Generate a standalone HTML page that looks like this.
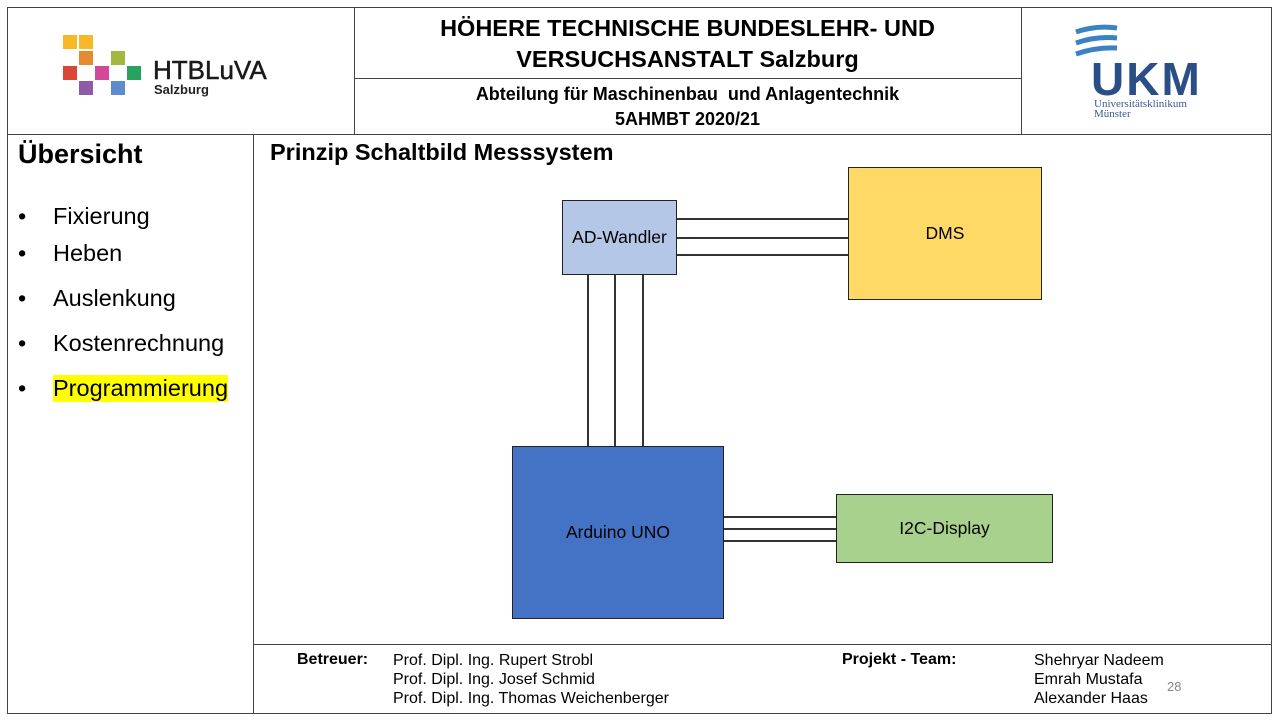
<!DOCTYPE html>
<html><head><meta charset="utf-8"><style>
*{margin:0;padding:0;box-sizing:border-box}
body{width:1280px;height:720px;background:#fff;position:relative;overflow:hidden;font-family:"Liberation Sans",Arial,sans-serif;color:#000}
.a{position:absolute}
.h{position:absolute;height:0;border-top:1.5px solid #444}
.v{position:absolute;width:0;border-left:1.5px solid #444}
.t{position:absolute;white-space:nowrap}
.box{position:absolute;border:1.5px solid #222;display:flex;align-items:center;justify-content:center;font-size:17.5px}
.ln{position:absolute;background:#333}
.li{font-size:23.5px}
</style></head><body>
<!-- frame -->
<div class="h" style="left:7px;top:7px;width:1265px"></div>
<div class="h" style="left:7px;top:134px;width:1265px"></div>
<div class="h" style="left:354px;top:78px;width:667px"></div>
<div class="h" style="left:253px;top:644px;width:1019px"></div>
<div class="h" style="left:7px;top:713px;width:1265px"></div>
<div class="v" style="left:7px;top:7px;height:706px"></div>
<div class="v" style="left:1271px;top:7px;height:706px"></div>
<div class="v" style="left:354px;top:7px;height:127px"></div>
<div class="v" style="left:1021px;top:7px;height:127px"></div>
<div class="v" style="left:253px;top:134px;height:579px"></div>

<!-- HTBLuVA logo -->
<div class="a" style="left:63px;top:35px;width:14px;height:14px;background:#f7b82a"></div>
<div class="a" style="left:79px;top:35px;width:14px;height:14px;background:#f7b82a"></div>
<div class="a" style="left:79px;top:51px;width:14px;height:14px;background:#e58a2f"></div>
<div class="a" style="left:111px;top:51px;width:14px;height:14px;background:#a4b840"></div>
<div class="a" style="left:63px;top:66px;width:14px;height:14px;background:#d94836"></div>
<div class="a" style="left:95px;top:66px;width:14px;height:14px;background:#d24a97"></div>
<div class="a" style="left:127px;top:66px;width:14px;height:14px;background:#27a35e"></div>
<div class="a" style="left:79px;top:81px;width:14px;height:14px;background:#8f5aa6"></div>
<div class="a" style="left:111px;top:81px;width:14px;height:14px;background:#5b8ccc"></div>
<div class="t" style="left:153px;top:55px;font-size:26px;color:#1a1a1a;-webkit-text-stroke:0.5px #1a1a1a">HTBLuVA</div>
<div class="t" style="left:154px;top:82px;font-size:13px;color:#222;font-weight:bold">Salzburg</div>

<!-- header text -->
<div class="t" style="left:354px;width:667px;top:13px;text-align:center;font-size:23.5px;font-weight:bold;line-height:31px">HÖHERE TECHNISCHE BUNDESLEHR- UND<br>VERSUCHSANSTALT Salzburg</div>
<div class="t" style="left:354px;width:667px;top:82px;text-align:center;font-size:18px;font-weight:bold;line-height:25px">Abteilung für Maschinenbau&nbsp; und Anlagentechnik<br>5AHMBT 2020/21</div>

<!-- UKM logo -->
<svg class="a" style="left:1073px;top:24px" width="48" height="40" viewBox="0 0 48 40">
<path d="M3 8 Q23 1 44 4" stroke="#3b82c4" stroke-width="5" fill="none"/>
<path d="M3 19 Q23 12 44 14" stroke="#3b82c4" stroke-width="5" fill="none"/>
<path d="M3 30 Q23 23 44 24" stroke="#3b82c4" stroke-width="5" fill="none"/>
</svg>
<div class="t" style="left:1091px;top:52px;font-size:46px;font-weight:bold;color:#2a4e86;letter-spacing:2px">UKM</div>
<div class="t" style="left:1094px;top:99px;font-size:11px;color:#3a5c8e;font-family:'Liberation Serif',serif;line-height:10px">Universitätsklinikum<br>Münster</div>

<!-- left panel -->
<div class="t" style="left:18px;top:139px;font-size:27px;font-weight:bold">Übersicht</div>
<div class="t li" style="left:18px;top:203px">•</div><div class="t li" style="left:53px;top:203px">Fixierung</div>
<div class="t li" style="left:18px;top:240px">•</div><div class="t li" style="left:53px;top:240px">Heben</div>
<div class="t li" style="left:18px;top:285px">•</div><div class="t li" style="left:53px;top:285px">Auslenkung</div>
<div class="t li" style="left:18px;top:330px">•</div><div class="t li" style="left:53px;top:330px">Kostenrechnung</div>
<div class="t li" style="left:18px;top:375px">•</div><div class="t li" style="left:53px;top:375px;background:#ffff00">Programmierung</div>

<!-- diagram -->
<div class="t" style="left:270px;top:139px;font-size:23.5px;font-weight:bold">Prinzip Schaltbild Messsystem</div>
<div class="ln" style="left:676px;top:218px;width:172px;height:2px"></div>
<div class="ln" style="left:676px;top:237px;width:172px;height:2px"></div>
<div class="ln" style="left:676px;top:254px;width:172px;height:2px"></div>
<div class="ln" style="left:587px;top:274px;width:2px;height:172px"></div>
<div class="ln" style="left:614px;top:274px;width:2px;height:172px"></div>
<div class="ln" style="left:642px;top:274px;width:2px;height:172px"></div>
<div class="ln" style="left:723px;top:516px;width:113px;height:2px"></div>
<div class="ln" style="left:723px;top:528px;width:113px;height:2px"></div>
<div class="ln" style="left:723px;top:540px;width:113px;height:2px"></div>
<div class="box" style="left:562px;top:200px;width:115px;height:75px;background:#b4c7e7">AD-Wandler</div>
<div class="box" style="left:848px;top:167px;width:194px;height:133px;background:#ffd966">DMS</div>
<div class="box" style="left:512px;top:446px;width:212px;height:173px;background:#4472c4">Arduino UNO</div>
<div class="box" style="left:836px;top:494px;width:217px;height:69px;background:#a9d18e">I2C-Display</div>

<!-- footer -->
<div class="t" style="left:297px;top:651px;font-size:16px;font-weight:bold">Betreuer:</div>
<div class="t" style="left:393px;top:651px;font-size:16px;line-height:19px">Prof. Dipl. Ing. Rupert Strobl<br>Prof. Dipl. Ing. Josef Schmid<br>Prof. Dipl. Ing. Thomas Weichenberger</div>
<div class="t" style="left:842px;top:651px;font-size:16px;font-weight:bold">Projekt - Team:</div>
<div class="t" style="left:1034px;top:651px;font-size:16px;line-height:19px">Shehryar Nadeem<br>Emrah Mustafa<br>Alexander Haas</div>
<div class="t" style="left:1167px;top:679px;font-size:13px;color:#888">28</div>
</body></html>
